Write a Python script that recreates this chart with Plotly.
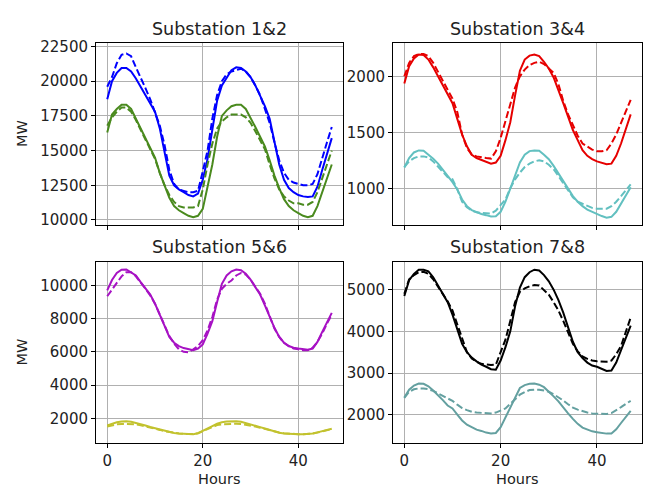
import plotly.graph_objects as go

hours = list(range(48))

titles = ["Substation 1&2", "Substation 3&4", "Substation 5&6", "Substation 7&8"]

s1_actual = [18700, 20000, 20600, 20950, 20950, 20700, 20200, 19600, 19000, 18400, 17800, 16600,
             14900, 13200, 12500, 12200, 12000, 11800, 11700, 11900, 12900, 14400, 16500, 18600,
             19700, 20300, 20800, 21000, 20950, 20700, 20300, 19700, 19000, 18200, 17300, 15700,
             14000, 12900, 12300, 12000, 11800, 11700, 11650, 11700, 12400, 13600, 14800, 15900]
s1_pred = [19600, 20300, 21300, 21900, 22000, 21800, 21000, 20300, 19500, 18700, 17800, 16800,
           15400, 13600, 12600, 12200, 12100, 12000, 12000, 12100, 13500, 15000, 17300, 19000,
           20000, 20500, 20700, 20800, 20900, 20700, 20300, 19700, 19000, 18000, 17000, 15600,
           14300, 13400, 12900, 12700, 12600, 12500, 12500, 12600, 13300, 14500, 15600, 16700]
s2_actual = [16300, 17600, 18000, 18300, 18300, 18000, 17300, 16600, 15900, 15300, 14500, 13400,
             12500, 11600, 11000, 10700, 10500, 10300, 10200, 10300, 10800, 12300, 14000, 16000,
             17500, 17900, 18200, 18300, 18300, 18000, 17400, 16700, 16000, 15300, 14300, 13200,
             12300, 11500, 11000, 10700, 10500, 10300, 10200, 10300, 11000, 12000, 13000, 14000]
s2_pred = [16800, 17400, 17800, 18100, 18100, 17800, 17200, 16500, 15800, 15200, 14400, 13400,
           12500, 11800, 11300, 11000, 10900, 10900, 10900, 11000, 12200, 14000, 15500, 16600,
           17100, 17400, 17600, 17600, 17600, 17400, 17000, 16400, 15800, 15100, 14000, 13000,
           12200, 11700, 11400, 11200, 11200, 11100, 11100, 11300, 12000, 13000, 14000, 15000]

s3_actual = [1935, 2090, 2160, 2195, 2190, 2150, 2080, 2000, 1910, 1830, 1760, 1620,
             1480, 1375, 1300, 1270, 1255, 1240, 1220, 1230, 1290, 1430, 1590, 1830,
             2050, 2150, 2185, 2195, 2180, 2130, 2070, 1990, 1880, 1760, 1640, 1520,
             1430, 1340, 1290, 1260, 1240, 1225, 1215, 1220, 1290, 1400, 1530, 1660]
s3_pred = [2000, 2120, 2180, 2200, 2200, 2180, 2120, 2040, 1960, 1880, 1800, 1680,
           1480, 1360, 1300, 1285, 1275, 1270, 1265, 1330, 1450, 1600, 1760, 1900,
           2000, 2060, 2100, 2120, 2130, 2110, 2070, 2030, 1930, 1780, 1660, 1560,
           1470, 1400, 1370, 1345, 1330, 1330, 1340, 1400, 1480, 1580, 1690, 1790]
s4_actual = [1185, 1270, 1320, 1338, 1335, 1300, 1265, 1220, 1170, 1110, 1055, 990,
             900, 840, 805, 785, 770, 760, 748, 750, 790, 880, 995, 1120,
             1230, 1300, 1332, 1338, 1335, 1300, 1260, 1200, 1130, 1060, 990, 930,
             880, 840, 810, 790, 768, 752, 738, 745, 790, 860, 935, 1010]
s4_pred = [1190, 1240, 1270, 1285, 1285, 1275, 1240, 1190, 1140, 1100, 1080, 990,
           880, 830, 800, 785, 780, 775, 775, 800, 850, 900, 1000, 1080,
           1140, 1190, 1220, 1240, 1250, 1240, 1210, 1170, 1110, 1050, 980, 920,
           880, 860, 840, 825, 818, 815, 818, 840, 880, 930, 980, 1035]

s5_actual = [9700, 10330, 10750, 10950, 10960, 10800, 10600, 10200, 9840, 9450, 8900, 8200,
             7500, 6900, 6550, 6350, 6230, 6150, 6100, 6200, 6450, 7100, 7850, 9000,
             10100, 10600, 10850, 10960, 10920, 10700, 10350, 9900, 9450, 8800, 8100, 7450,
             6900, 6550, 6350, 6250, 6200, 6150, 6130, 6200, 6600, 7200, 7800, 8350]
s5_pred = [9350, 9750, 10200, 10550, 10800, 10800, 10550, 10200, 9800, 9400, 8900, 8250,
           7600, 6950, 6500, 6150, 6000, 5980, 6150, 6350, 6700, 7300, 8100, 9150,
           9800, 10100, 10300, 10600, 10750, 10650, 10350, 9950, 9500, 8900, 8150, 7400,
           6900, 6550, 6350, 6200, 6150, 6100, 6100, 6250, 6600, 7100, 7700, 8250]
s6_actual = [1570, 1680, 1760, 1800, 1820, 1790, 1730, 1660, 1570, 1480, 1400, 1320,
             1240, 1170, 1120, 1080, 1060, 1045, 1035, 1100, 1230, 1380, 1530, 1670,
             1760, 1800, 1820, 1820, 1790, 1720, 1640, 1560, 1470, 1380, 1290, 1200,
             1130, 1090, 1060, 1040, 1035, 1040, 1050, 1080, 1150, 1230, 1310, 1370]
s6_pred = [1500, 1580, 1640, 1660, 1660, 1650, 1630, 1580, 1520, 1450, 1380, 1300,
           1220, 1160, 1110, 1080, 1060, 1050, 1050, 1100, 1220, 1360, 1490, 1590,
           1640, 1660, 1670, 1670, 1660, 1620, 1570, 1500, 1430, 1350, 1270, 1200,
           1140, 1100, 1070, 1050, 1040, 1040, 1050, 1080, 1140, 1220, 1290, 1350]

s7_actual = [4850, 5230, 5380, 5480, 5480, 5440, 5300, 5100, 4920, 4700, 4400, 4050,
             3700, 3500, 3370, 3280, 3200, 3150, 3090, 3080, 3300, 3620, 4000, 4600,
             5050, 5300, 5420, 5480, 5460, 5350, 5200, 5000, 4750, 4450, 4100, 3750,
             3500, 3360, 3250, 3180, 3150, 3100, 3050, 3060, 3250, 3550, 3850, 4140]
s7_pred = [4900, 5250, 5350, 5420, 5430, 5380, 5250, 5070, 4900, 4720, 4500, 4150,
           3800, 3500, 3350, 3270, 3220, 3200, 3190, 3200, 3500, 3800, 4250, 4700,
           4950, 5030, 5080, 5110, 5100, 5000, 4880, 4700, 4500, 4250, 3950, 3700,
           3520, 3400, 3340, 3300, 3280, 3270, 3270, 3300, 3450, 3650, 4000, 4330]
s8_actual = [2410, 2600, 2700, 2745, 2740, 2680, 2580, 2470, 2350, 2220, 2150, 2000,
             1860, 1760, 1690, 1640, 1610, 1570, 1550, 1560, 1700, 1930, 2170, 2420,
             2640, 2710, 2740, 2745, 2720, 2660, 2560, 2440, 2320, 2170, 2030, 1900,
             1780, 1690, 1640, 1600, 1580, 1560, 1545, 1550, 1650, 1800, 1950, 2090]
s8_pred = [2400, 2550, 2610, 2630, 2630, 2610, 2570, 2510, 2450, 2400, 2330, 2240,
           2160, 2110, 2070, 2050, 2040, 2030, 2030, 2050, 2100, 2150, 2260, 2380,
           2480, 2540, 2590, 2600, 2600, 2580, 2550, 2490, 2420, 2340, 2250, 2170,
           2120, 2080, 2050, 2030, 2020, 2015, 2015, 2040, 2100, 2180, 2260, 2330]

x_ticks = [0, 20, 40]
y_ticks = [
    [10000, 12500, 15000, 17500, 20000, 22500],
    [1000, 1500, 2000],
    [2000, 4000, 6000, 8000, 10000],
    [2000, 3000, 4000, 5000],
]
y_ranges = [[9646, 22734], [673, 2295], [522, 11400], [1324, 5660]]

panels = [
    [(s1_actual, s1_pred, "#0000ff"), (s2_actual, s2_pred, "#4a8a1e")],
    [(s3_actual, s3_pred, "#e60000"), (s4_actual, s4_pred, "#62c0c0")],
    [(s5_actual, s5_pred, "#a712c4"), (s6_actual, s6_pred, "#c2c22e")],
    [(s7_actual, s7_pred, "#000000"), (s8_actual, s8_pred, "#64a0a0")],
]

W, H = 648, 491
boxes = [  # left, top, right, bottom in px
    (96, 39, 343, 224),
    (393, 39, 642, 224),
    (96, 262, 343, 446),
    (393, 262, 642, 446),
]

fig = go.Figure()
font = "DejaVu Sans, sans-serif"
annotations = []
for i, pairs in enumerate(panels):
    n = "" if i == 0 else str(i + 1)
    for act, pred, col in pairs:
        fig.add_trace(go.Scatter(x=hours, y=act, mode="lines", xaxis="x" + n, yaxis="y" + n,
                                 line=dict(color=col, width=2), showlegend=False))
        fig.add_trace(go.Scatter(x=hours, y=pred, mode="lines", xaxis="x" + n, yaxis="y" + n,
                                 line=dict(color=col, width=2, dash="7px,3px"), showlegend=False))
    l, t, r, b = boxes[i]
    common = dict(showline=True, mirror=True, linecolor="black", linewidth=1,
                  ticks="outside", ticklen=4, tickwidth=1, tickcolor="black",
                  showgrid=True, gridcolor="#b0b0b0", gridwidth=1, zeroline=False,
                  tickformat="d",
                  tickfont=dict(family=font, size=15, color="#222222"))
    fig.layout["xaxis" + n] = dict(common, domain=[l / W, r / W], anchor="y" + n,
                                   range=[-2.35, 49.35], tickvals=x_ticks,
                                   showticklabels=(i >= 2))
    fig.layout["yaxis" + n] = dict(common, domain=[1 - b / H, 1 - t / H], anchor="x" + n,
                                   range=y_ranges[i], tickvals=y_ticks[i])
    annotations.append(dict(text=titles[i], x=(l + r) / 2 / W, y=1 - (t - 15) / H,
                            xref="paper", yref="paper", showarrow=False,
                            xanchor="center", yanchor="middle",
                            font=dict(family=font, size=17.5, color="#222222")))
    if i % 2 == 0:
        annotations.append(dict(text="MW", x=22 / W, y=1 - ((t + b) / 2) / H,
                                xref="paper", yref="paper", showarrow=False, textangle=-90,
                                xanchor="center", yanchor="middle",
                                font=dict(family=font, size=14.5, color="#222222")))
    if i >= 2:
        annotations.append(dict(text="Hours", x=((l + r) / 2 - 1) / W, y=1 - 483 / H,
                                xref="paper", yref="paper", showarrow=False,
                                xanchor="center", yanchor="middle",
                                font=dict(family=font, size=14.5, color="#222222")))

fig.update_layout(width=W, height=H, margin=dict(l=0, r=0, t=0, b=0),
                  paper_bgcolor="white", plot_bgcolor="white",
                  annotations=annotations, font=dict(family=font))
fig.write_html("out.html")
